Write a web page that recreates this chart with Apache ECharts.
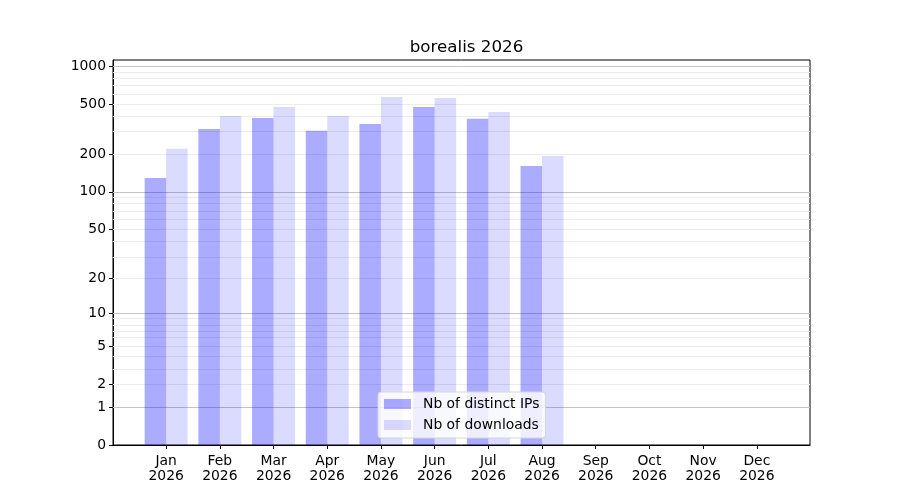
<!DOCTYPE html>
<html>
<head>
<meta charset="utf-8">
<script src="https://cdn.jsdelivr.net/npm/echarts@6/dist/echarts.min.js"></script>
<style>
  html, body { margin: 0; padding: 0; background: #fff; }
  #chart { width: 900px; height: 500px; }
</style>
</head>
<body>
<div id="chart"></div>
<script>
var months = ["Jan", "Feb", "Mar", "Apr", "May", "Jun", "Jul", "Aug", "Sep", "Oct", "Nov", "Dec"];
var year = "2026";
var distinctIPs = [129, 317, 387, 306, 347, 474, 381, 161, 0, 0, 0, 0];
var downloads = [220, 402, 474, 402, 569, 558, 432, 193, 0, 0, 0, 0];
var yTicks = [0, 1, 2, 5, 10, 20, 50, 100, 200, 500, 1000];
var majorGrid = [1, 10, 100, 1000];
var minorSteps = [2, 3, 4, 5, 6, 7, 8, 9];
var decades = [1, 10, 100];

// y axis is log10(v + 1)
var tr = function (v) { return Math.log10(v + 1); };
var untr = function (t) { return Math.round(Math.pow(10, t) - 1); };

var minorGrid = [];
decades.forEach(function (d) {
	minorSteps.forEach(function (s) { minorGrid.push(d * s); });
});

var font = "DejaVu Sans";
var fs = 13.9;
var idx = months.map(function (m, i) { return i; });

var gridLines = minorGrid.map(function (v) {
	return { yAxis: tr(v), lineStyle: { color: "#ebebeb", width: 1, type: "solid" } };
}).concat(majorGrid.map(function (v) {
	return { yAxis: tr(v), lineStyle: { color: "#c4c4c4", width: 1, type: "solid" } };
}));

var chart = echarts.init(document.getElementById("chart"), null, { renderer: "canvas" });

chart.setOption({
	animation: false,
	backgroundColor: "#fff",
	textStyle: { fontFamily: font },
	title: {
		text: "borealis " + year,
		left: 461.5,
		textAlign: "center",
		top: 34,
		textStyle: { fontFamily: font, fontSize: 16.7, fontWeight: "normal", color: "#000" }
	},
	grid: {
		left: 113, right: 90, top: 60, bottom: 55,
		show: true, borderColor: "#000", borderWidth: 1, backgroundColor: "transparent"
	},
	legend: {
		data: ["Nb of distinct IPs", "Nb of downloads"],
		orient: "vertical",
		left: 378,
		top: 392,
		padding: [4, 6, 5, 6],
		itemGap: 5,
		itemWidth: 27,
		itemHeight: 10,
		icon: "rect",
		backgroundColor: "rgba(255,255,255,0.8)",
		borderColor: "#d6d6d6",
		borderWidth: 1,
		borderRadius: 3,
		textStyle: { fontFamily: font, fontSize: fs, lineHeight: 16, color: "#000", padding: [0, 0, 0, 7] }
	},
	xAxis: {
		type: "value",
		min: -0.99,
		max: 11.99,
		axisLine: { show: true, onZero: false, lineStyle: { color: "#000" } },
		axisTick: { show: true, customValues: idx, length: 4, lineStyle: { color: "#000" } },
		axisLabel: {
			customValues: idx,
			margin: 9,
			lineHeight: 15,
			fontFamily: font,
			fontSize: fs,
			color: "#000",
			formatter: function (v) { return months[Math.round(v)] + "\n" + year; }
		},
		splitLine: { show: false }
	},
	yAxis: {
		type: "value",
		min: 0,
		max: 3.048,
		axisLine: { show: true, onZero: false, lineStyle: { color: "#000" } },
		axisTick: { show: true, customValues: yTicks.map(tr), length: 4, lineStyle: { color: "#000" } },
		axisLabel: {
			customValues: yTicks.map(tr),
			margin: 7,
			fontFamily: font,
			fontSize: fs,
			color: "#000",
			formatter: function (v) { return String(untr(v)); }
		},
		splitLine: { show: false }
	},
	series: [
		{
			name: "grid",
			type: "line",
			data: [],
			z: 1,
			silent: true,
			markLine: {
				z: 1,
				silent: true,
				symbol: ["none", "none"],
				label: { show: false },
				animation: false,
				data: gridLines
			}
		},
		{
			name: "Nb of distinct IPs",
			type: "bar",
			z: 2,
			barWidth: 21.5,
			barGap: "0%",
			itemStyle: { color: "rgba(0,0,255,0.33)" },
			data: distinctIPs.map(function (v, i) { return [i, tr(v)]; })
		},
		{
			name: "Nb of downloads",
			type: "bar",
			z: 2,
			barWidth: 21.5,
			barGap: "0%",
			itemStyle: { color: "rgba(0,0,255,0.14)" },
			data: downloads.map(function (v, i) { return [i, tr(v)]; })
		}
	]
});
</script>
</body>
</html>
